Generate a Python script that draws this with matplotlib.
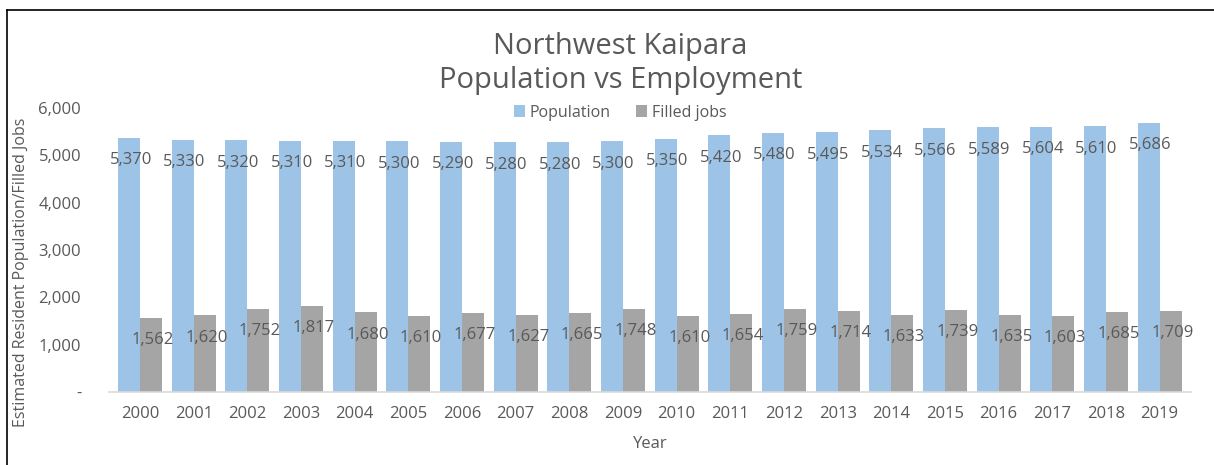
import numpy as np
import matplotlib.pyplot as plt
from matplotlib.lines import Line2D

plt.rcParams['font.family'] = ['Open Sans', 'DejaVu Sans']

years = [str(y) for y in range(2000, 2020)]
population = [5370, 5330, 5320, 5310, 5310, 5300, 5290, 5280, 5280, 5300,
              5350, 5420, 5480, 5495, 5534, 5566, 5589, 5604, 5610, 5686]
filled_jobs = [1562, 1620, 1752, 1817, 1680, 1610, 1677, 1627, 1665, 1748,
               1610, 1654, 1759, 1714, 1633, 1739, 1635, 1603, 1685, 1709]

txt = '#595959'
blue = '#9DC3E6'
grey = '#A5A5A5'

fig = plt.figure(figsize=(12.14, 4.65), dpi=100)
ax = fig.add_axes([0.0898, 0.157, 0.891, 0.611])

x = np.arange(len(years))
w = 0.41
b1 = ax.bar(x - w/2, population, w, color=blue, label='Population')
b2 = ax.bar(x + w/2, filled_jobs, w, color=grey, label='Filled jobs')

# data labels, inside the top of each bar
for xi, v in zip(x, population):
    ax.text(xi - w/2 + 0.03, v - 480, f'{v:,}', ha='center', va='center',
            fontsize=12, color=txt)
for xi, v in zip(x, filled_jobs):
    ax.text(xi + w/2 + 0.03, v - 470, f'{v:,}', ha='center', va='center',
            fontsize=12, color=txt)

ax.set_xlim(-0.58, len(years) - 0.42)
ax.set_ylim(0, 6000)
ax.set_xticks(x)
ax.set_xticklabels(years)
ax.set_yticks(range(0, 7000, 1000))
ax.set_yticklabels(['-'] + [f'{v:,}' for v in range(1000, 7000, 1000)])
ax.tick_params(axis='both', length=0, colors=txt, labelsize=12)
ax.tick_params(axis='x', pad=10)
ax.tick_params(axis='y', pad=20)
for s in ['top', 'right', 'left']:
    ax.spines[s].set_visible(False)
ax.spines['bottom'].set_color('#D9D9D9')
ax.spines['bottom'].set_linewidth(1.2)

ax.set_xlabel('Year', color=txt, fontsize=12)
ax.xaxis.set_label_coords(0.5, -0.155)
ax.set_ylabel('Estimated Resident Population/Filled Jobs', color=txt,
              fontsize=11.5)
ax.yaxis.set_label_coords(-0.074, 0.42)

fig.text(0.511, 0.901, 'Northwest Kaipara', ha='center', va='center',
         fontsize=21, color=txt)
fig.text(0.511, 0.826, 'Population vs Employment', ha='center', va='center',
         fontsize=21, color=txt)

leg = fig.legend(handles=[b1, b2], loc='center', bbox_to_anchor=(0.511, 0.758),
                 ncol=2, frameon=False, fontsize=11.5, handlelength=0.7,
                 handleheight=0.7, handletextpad=0.3, columnspacing=1.6)
for t in leg.get_texts():
    t.set_color(txt)

# outer border on left and top
fig.add_artist(Line2D([0.0058, 0.0058], [0, 0.979], color='black', lw=1.2,
                      transform=fig.transFigure))
fig.add_artist(Line2D([0.0058, 1], [0.979, 0.979], color='black', lw=1.2,
                      transform=fig.transFigure))

fig.savefig('out.png', dpi=100)
